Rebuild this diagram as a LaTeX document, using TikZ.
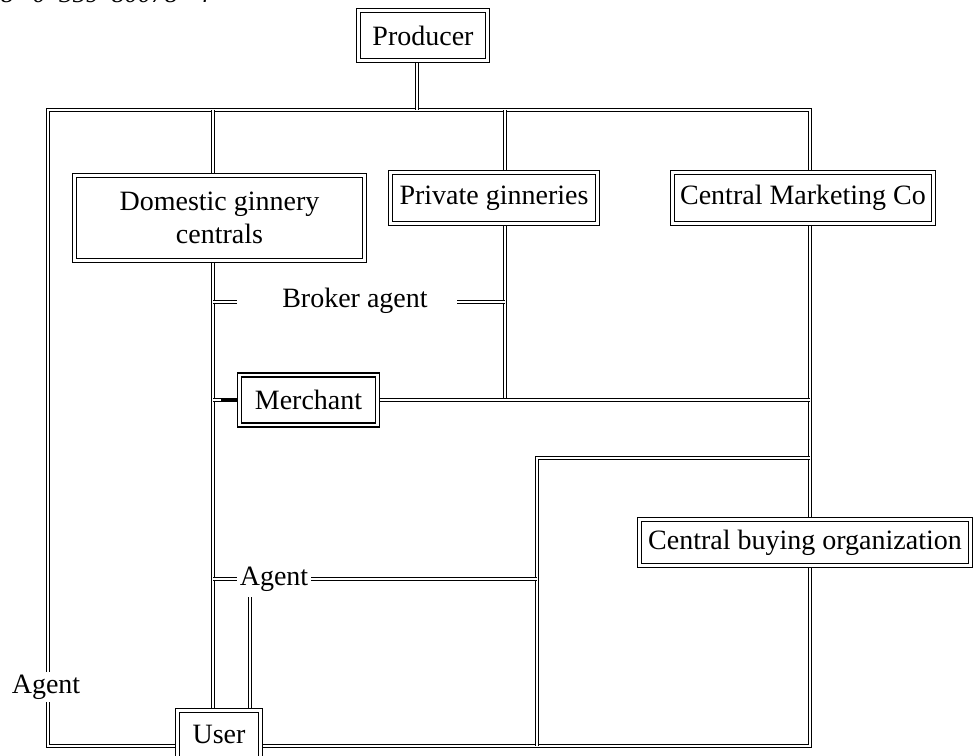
\documentclass[tikz,border=0pt]{standalone}
\usepackage{fontspec}
\setmainfont{Liberation Serif}
\pgfdeclarelayer{wires}
\pgfsetlayers{wires,main}
\begin{document}
\begin{tikzpicture}[x=0.75pt,y=-0.75pt,
  wire/.style={draw=black, line width=0.8pt, double=white, double distance=1.5pt},
  box/.style={draw=black, line width=0.8pt, double=white, double distance=2.2pt,
    fill=white, align=center, inner sep=0pt, font=\fontsize{21}{25}\selectfont},
  sz/.style 2 args={minimum width=#1*0.75pt, minimum height=#2*0.75pt},
  lbl/.style={font=\fontsize{21}{25}\selectfont, inner sep=2pt},
]
\useasboundingbox (0,0) rectangle (976,756);

% header fragment running off the top edge
\node[anchor=base west, inner sep=0pt, font=\itshape\fontsize{20}{24}\selectfont] (hdr) at (-13,3)
  {78\hspace{14pt}0\hspace{10pt}359\hspace{9pt}80078\hspace{14pt}4};

% organisations
\node[box, sz={129}{50}]  (prod)  at (423,35.5)  {Producer};
\node[box, sz={290}{85}]  (dom)   at (219.5,218) {Domestic ginnery\\centrals};
\node[box, sz={207}{51}]  (priv)  at (494,198)   {Private ginneries};
\node[box, sz={261}{51}]  (cmc)   at (803,198)   {Central Marketing Co};
\node[box, sz={138}{50}]  (merch) at (308.5,400) {Merchant};
\node[box, sz={331}{46}]  (cbo)   at (805,542.5) {Central buying organization};
\node[box, sz={83}{52}, text depth=3.75pt] (user) at (219,736.5) {User};

% intermediary labels
\node[lbl] (broker) at (355,301) {Broker agent};
\node[lbl] (agent)  at (274,579) {Agent};
\node[lbl, fill=white] (agentL) at (46,687) {Agent};

% junction points of the channel network
\coordinate (busL) at (48,110);
\coordinate (busR) at (810,110);
\coordinate (botL) at (48,746);
\coordinate (botR) at (810,746);
\coordinate (ps)   at (417,110);
\coordinate (ds)   at (213,110);
\coordinate (pvs)  at (505,110);
\coordinate (bkL)  at (237,302);
\coordinate (bkR)  at (457,302);
\coordinate (cbT)  at (537,458);
\coordinate (av)   at (250,597);

\begin{pgfonlayer}{wires}
  % outer ring: producer bus, direct route to user on both sides
  \draw[wire] (user.west |- botL) -- (botL) -- (busL) -- (busR) -- (botR) -- (user.east |- botR);
  \draw[wire] (prod.south -| ps) -- (ps);
  % domestic ginnery channel
  \draw[wire] (ds) -- (user.north -| ds);
  % private ginneries down to merchant line
  \draw[wire] (pvs) -- (merch.east -| pvs);
  % broker agent stubs
  \draw[wire] (bkL -| ds) -- (bkL);
  \draw[wire] (bkR) -- (bkR -| pvs);
  % merchant links
  \draw[wire] (merch.east) -- (merch.east -| busR);
  \draw[wire] (merch.west -| ds) -- (merch.west);
  \draw[line width=3pt, shorten <=6pt] (merch.west -| ds) -- (merch.west);
  % central buying branch
  \draw[wire] (cbT -| busR) -- (cbT) -- (cbT |- botR);
  % agent links
  \draw[wire] (agent.west -| ds) -- (agent.west);
  \draw[wire] (agent.east) -- (agent.east -| cbT);
  \draw[wire] (av) -- (user.north -| av);
\end{pgfonlayer}
\end{tikzpicture}
\end{document}
